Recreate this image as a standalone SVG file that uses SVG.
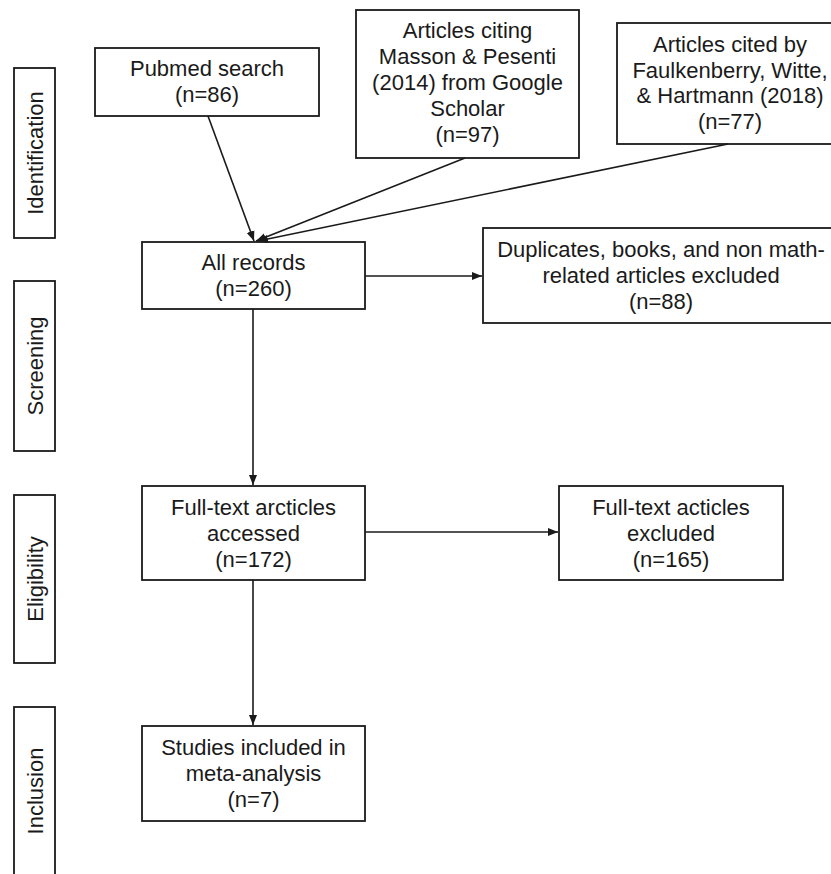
<svg xmlns="http://www.w3.org/2000/svg" width="831" height="874" viewBox="0 0 831 874">
<style>
.box{fill:#fff;stroke:#1a1a1a;stroke-width:1.8}
.t{font-family:"Liberation Sans",Arial,sans-serif;font-size:22px;fill:#1a1a1a;text-anchor:middle}
.c{fill:none;stroke:#1a1a1a;stroke-width:1.6}
</style>
<defs>
<marker id="ah" viewBox="0 0 10 10" refX="10" refY="5" markerWidth="10" markerHeight="10" markerUnits="userSpaceOnUse" orient="auto">
<path d="M0,1 L10,5 L0,9 Z" fill="#1a1a1a"/>
</marker>
</defs>
<rect width="831" height="874" fill="#fff"/>
<g id="phase-identification">
<rect class="box" x="14" y="68" width="41" height="170"/>
<text class="t" transform="translate(43,153) rotate(-90)">Identification</text>
</g>
<g id="phase-screening">
<rect class="box" x="14" y="281" width="41" height="170"/>
<text class="t" transform="translate(43,366) rotate(-90)">Screening</text>
</g>
<g id="phase-eligibility">
<rect class="box" x="14" y="495" width="41" height="168"/>
<text class="t" transform="translate(43,579) rotate(-90)">Eligibility</text>
</g>
<g id="phase-inclusion">
<rect class="box" x="14" y="707" width="41" height="180"/>
<text class="t" transform="translate(43,791) rotate(-90)">Inclusion</text>
</g>
<g id="pubmed">
<rect class="box" x="95" y="48" width="224" height="68"/>
<text class="t" x="207" y="76">Pubmed search</text>
<text class="t" x="207" y="102">(n=86)</text>
</g>
<g id="citing">
<rect class="box" x="356" y="10" width="223" height="148"/>
<text class="t" x="467.5" y="38">Articles citing</text>
<text class="t" x="467.5" y="64">Masson &amp; Pesenti</text>
<text class="t" x="467.5" y="90">(2014) from Google</text>
<text class="t" x="467.5" y="116">Scholar</text>
<text class="t" x="467.5" y="142">(n=97)</text>
</g>
<g id="cited">
<rect class="box" x="617" y="23" width="226" height="121"/>
<text class="t" x="730" y="52">Articles cited by</text>
<text class="t" x="730" y="78">Faulkenberry, Witte,</text>
<text class="t" x="730" y="103">&amp; Hartmann (2018)</text>
<text class="t" x="730" y="129">(n=77)</text>
</g>
<g id="all-records">
<rect class="box" x="142" y="242" width="223" height="67"/>
<text class="t" x="253.5" y="270">All records</text>
<text class="t" x="253.5" y="296">(n=260)</text>
</g>
<g id="duplicates">
<rect class="box" x="483" y="228" width="356" height="95"/>
<text class="t" x="661" y="257">Duplicates, books, and non math-</text>
<text class="t" x="661" y="283">related articles excluded</text>
<text class="t" x="661" y="309">(n=88)</text>
</g>
<g id="fulltext">
<rect class="box" x="142" y="486" width="223" height="94"/>
<text class="t" x="253.5" y="515">Full-text arcticles</text>
<text class="t" x="253.5" y="541">accessed</text>
<text class="t" x="253.5" y="567">(n=172)</text>
</g>
<g id="fulltext-excluded">
<rect class="box" x="559" y="486" width="224" height="94"/>
<text class="t" x="671" y="515">Full-text acticles</text>
<text class="t" x="671" y="541">excluded</text>
<text class="t" x="671" y="567">(n=165)</text>
</g>
<g id="studies">
<rect class="box" x="142" y="726" width="223" height="95"/>
<text class="t" x="253.5" y="755">Studies included in</text>
<text class="t" x="253.5" y="781">meta-analysis</text>
<text class="t" x="253.5" y="807">(n=7)</text>
</g>
<g id="connectors">
<line class="c" x1="208" y1="116" x2="254" y2="241" marker-end="url(#ah)"/>
<line class="c" x1="465" y1="158" x2="256" y2="241" marker-end="url(#ah)"/>
<line class="c" x1="728" y1="144" x2="258" y2="241" marker-end="url(#ah)"/>
<line class="c" x1="365" y1="276" x2="482" y2="276" marker-end="url(#ah)"/>
<line class="c" x1="253" y1="309" x2="253" y2="485" marker-end="url(#ah)"/>
<line class="c" x1="365" y1="532" x2="558" y2="532" marker-end="url(#ah)"/>
<line class="c" x1="253" y1="580" x2="253" y2="725" marker-end="url(#ah)"/>
</g>
</svg>
